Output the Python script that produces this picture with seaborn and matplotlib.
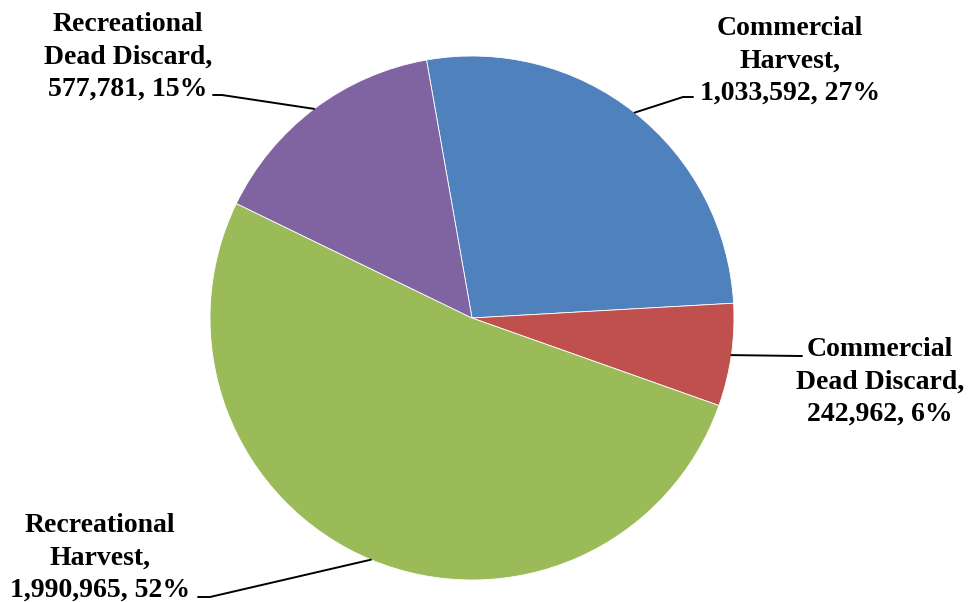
import numpy as np
import matplotlib
matplotlib.use('Agg')
import matplotlib.pyplot as plt
import seaborn as sns

# ── DATA ──────────────────────────────────────────────────────
categories = ['Commercial\nHarvest,', 'Commercial\nDead Discard,',
              'Recreational\nHarvest,', 'Recreational\nDead Discard,']
values = [1033592, 242962, 1990965, 577781]
colors = ['#4F81BD', '#C0504D', '#9BBB59', '#8064A2']

# ── LAYOUT (pixel coords, y from top) ─────────────────────────
W, H = 969, 602
cx, cy, r = 472, 318, 262
# text block centre, leader elbow end (near text), shelf length sign
label_pos = [(790, 61), (880, 382), (100, 558), (128, 57)]
leader_end = [(683, 97), (800, 356), (210, 597), (222, 95)]
shelf = [10, 2, -12, -9]

sns.set_theme(style='white')
plt.rcParams['font.family'] = ['Liberation Serif', 'DejaVu Serif']

fig = plt.figure(figsize=(W / 100, H / 100), dpi=100)
ax = fig.add_axes([0, 0, 1, 1])

wedges, _ = ax.pie(values, colors=colors, startangle=100, counterclock=False,
                   center=(cx, H - cy), radius=r, frame=False,
                   wedgeprops=dict(edgecolor='white', linewidth=0.6))
ax.set_xlim(0, W)
ax.set_ylim(0, H)
ax.set_aspect('equal')
ax.axis('off')

total = sum(values)
for w, cat, v, (tx, ty), (lx, ly), sh in zip(wedges, categories, values,
                                              label_pos, leader_end, shelf):
    mid = np.deg2rad((w.theta1 + w.theta2) / 2)
    ax_x = cx + r * np.cos(mid)
    ax_y = (H - cy) + r * np.sin(mid)
    ax.plot([ax_x, lx, lx + sh], [ax_y, H - ly, H - ly], color='black', lw=1.4)
    txt = f"{cat}\n{v:,}, {v / total:.0%}"
    ax.text(tx, H - ty, txt, ha='center', va='center', fontsize=20,
            fontweight='bold', linespacing=1.38, color='black')

plt.savefig('out.png', dpi=100)
